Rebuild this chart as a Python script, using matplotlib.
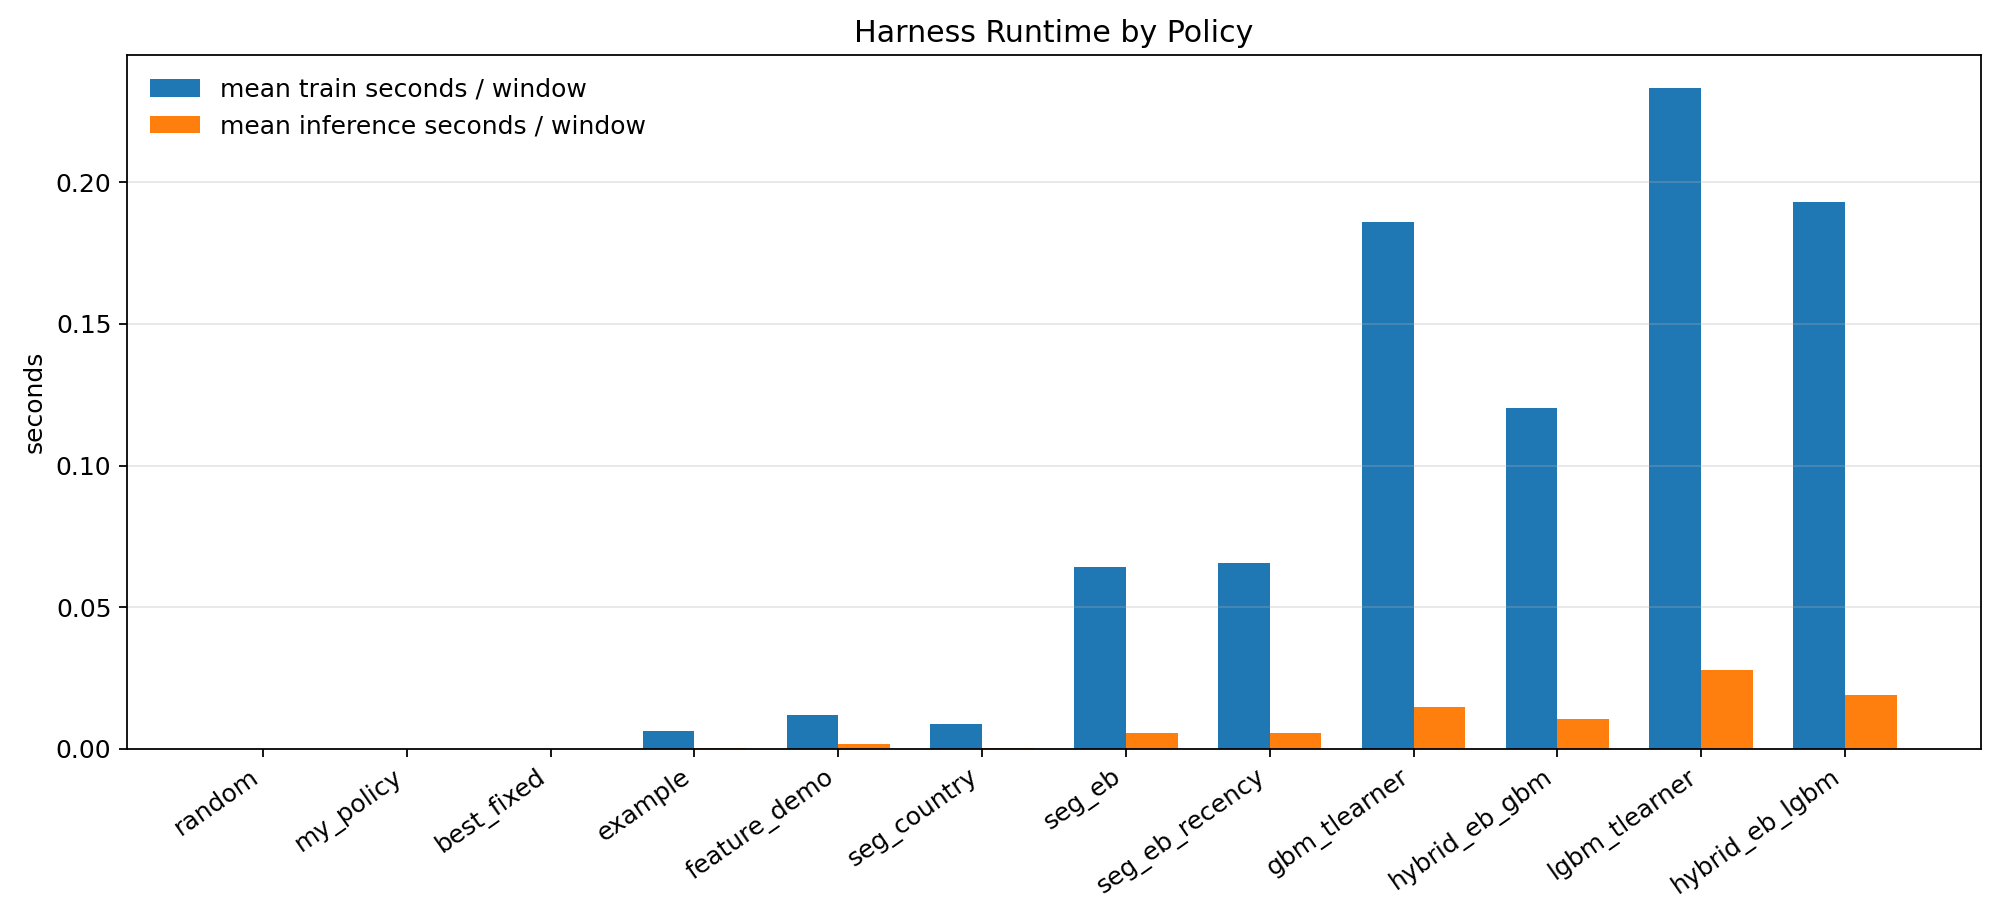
import numpy as np
import matplotlib
matplotlib.use("Agg")
from matplotlib import pyplot as plt

policies = ["random", "my_policy", "best_fixed", "example", "feature_demo",
            "seg_country", "seg_eb", "seg_eb_recency", "gbm_tlearner",
            "hybrid_eb_gbm", "lgbm_tlearner", "hybrid_eb_lgbm"]
train_sec = [0.00001, 0.00001, 0.00001, 0.0064, 0.0121, 0.0089,
             0.0643, 0.0656, 0.1859, 0.1202, 0.2332, 0.1930]
infer_sec = [0.000005, 0.000005, 0.000005, 0.0004, 0.0018, 0.0004,
             0.0055, 0.0055, 0.0149, 0.0107, 0.0279, 0.0190]


def main():
    plt.rcParams["font.size"] = 11.25

    x = np.arange(len(policies))
    width = 0.36

    fig, ax = plt.subplots(figsize=(12.5, 5.75), dpi=160)
    ax.bar(x - width / 2, train_sec, width, label="mean train seconds / window")
    ax.bar(x + width / 2, infer_sec, width, label="mean inference seconds / window")

    ax.set_xticks(x)
    ax.set_xticklabels(policies, rotation=35, ha="right")
    ax.set_ylabel("seconds")
    ax.set_title("Harness Runtime by Policy")
    ax.grid(axis="y", alpha=0.3)
    ax.legend(loc="upper left", frameon=False)

    fig.subplots_adjust(left=0.0635, right=0.9905, top=0.940, bottom=0.186)
    fig.savefig("out.png", dpi=160)


if __name__ == "__main__":
    main()
